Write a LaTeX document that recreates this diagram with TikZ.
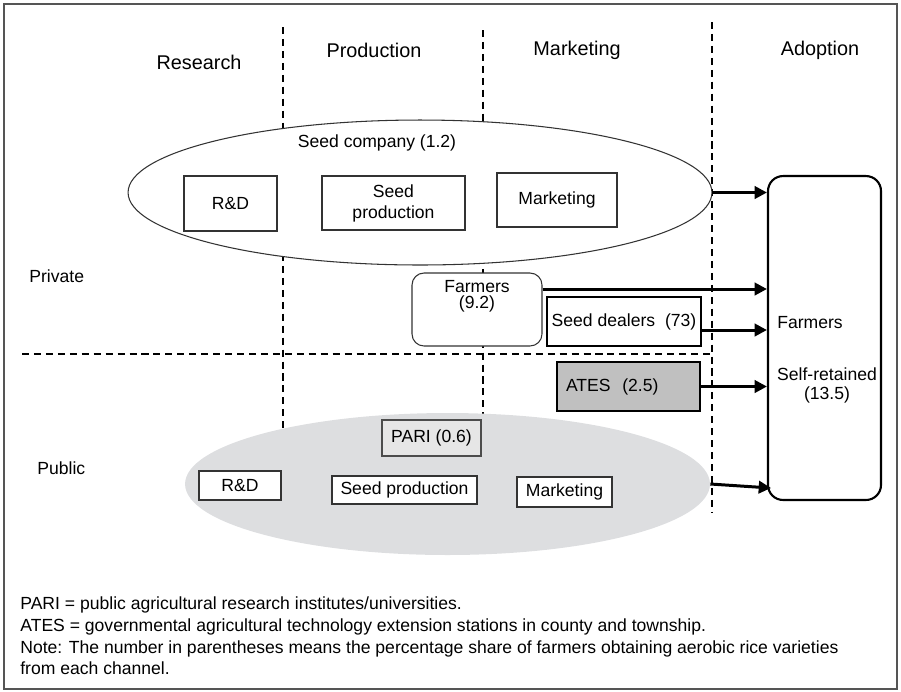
\documentclass[tikz,border=0pt]{standalone}
\usepackage{fontspec}
\setmainfont{Liberation Sans}
\usetikzlibrary{positioning,arrows.meta,shapes.geometric}
\definecolor{framegray}{HTML}{555555}
\definecolor{pubgray}{HTML}{DDDEE0}
\definecolor{parigray}{HTML}{E6E6E6}
\definecolor{atesgray}{HTML}{C0C0C0}

\begin{document}
\begin{tikzpicture}[x=0.02cm,y=-0.02cm,
	font=\fontsize{10}{12}\selectfont,
	gridline/.style={line width=1.3pt,dash pattern=on 4pt off 2.8pt},
	box/.style={draw=black!80,line width=0.6pt,fill=white,inner sep=0pt,align=center},
	thickbox/.style={box,draw=black,line width=1.2pt},
	header/.style={font=\fontsize{11.3}{13}\selectfont},
	flow/.style={line width=1.7pt,-{Triangle[length=7pt,width=7pt]}}]
		
		\useasboundingbox (0,0) rectangle (901,691);
		
		% frame
		\draw[framegray,line width=0.6pt]
		(4,4)
		rectangle
		(897,689);
		
		% stage and sector borders
		\draw[gridline] (283,27) -- (283,440);
		\draw[gridline] (483,30) -- (483,420);
		\draw[gridline] (712,22) -- (712,512);
		\draw[gridline] (22,354) -- (712,354);
		
		% private sector
		\node[ellipse,box,minimum width=11.68cm,minimum height=2.9cm] (pco)
		at (420,192.5) {};
		\node (pcotext) at (377,143) {Seed company (1.2)};
		\node[box,minimum width=1.86cm,minimum height=1.1cm] (prd)
		at (230.5,203.5) {R\&D};
		\node[box,minimum width=2.86cm,minimum height=1.08cm] (pprod)
		at (393.5,203) {Seed\\production};
		\node[box,minimum width=2.4cm,minimum height=1.08cm] (pmkt)
		at (557,200) {Marketing};
		
		\node[box,rounded corners=0.24cm,minimum width=2.6cm,minimum height=1.46cm] (pfarm)
		at (477,309.5) {};
		\node[align=center,font=\fontsize{10}{9}\selectfont] (pfarmtext)
		at (477,296) {Farmers\\(9.2)};
		\node[thickbox,minimum width=3.08cm,minimum height=0.98cm] (dealer)
		at (624,321.5) {Seed dealers\ \ (73)};
		
		% public sector
		\node[thickbox,fill=atesgray,text width=2.5cm,align=left,inner xsep=5pt,minimum height=0.98cm] (ates)
		at (628.5,386.5) {ATES\ \ (2.5)};
		
		\node[ellipse,fill=pubgray,inner sep=0pt,minimum width=10.5cm,minimum height=2.84cm] (pub)
		at (447.5,484) {};
		\node[box,draw=black!70,fill=parigray,minimum width=1.98cm,minimum height=0.72cm] (pari)
		at (431.5,438) {PARI (0.6)};
		\node[box,minimum width=1.64cm,minimum height=0.58cm] (urd)
		at (240,485.5) {R\&D};
		\node[box,minimum width=2.9cm,minimum height=0.56cm] (uprod)
		at (404.5,490) {Seed production};
		\node[box,minimum width=1.9cm,minimum height=0.6cm] (umkt)
		at (564.5,492) {Marketing};
		
		% adoption
		\node[thickbox,rounded corners=0.3cm,minimum width=2.26cm,minimum height=6.48cm] (ado)
		at (824.5,338) {};
		\node[anchor=west,inner sep=0pt] (adofarm)
		at (777,323) {Farmers};
		\node[align=center,font=\fontsize{10}{10.8}\selectfont] (adoself)
		at (827,385.5) {Self-retained\\(13.5)};
		
		% channels
		\coordinate (pubtip) at (771,488);
		\draw[flow] (pco.east) -- (pco.east -| ado.west);
		\draw[flow] ([yshift=0.41cm]pfarm.east) -- ([yshift=0.41cm]pfarm.east -| ado.west);
		\draw[flow] ([yshift=-0.17cm]dealer.east) -- ([yshift=-0.17cm]dealer.east -| ado.west);
		\draw[flow] (ates.east) -- (ates.east -| ado.west);
		\draw[flow] (pub.east) -- (pubtip);
		
		% labels
		\node[header] (hres) at (199,62) {Research};
		\node[header] (hprod) at (374,50) {Production};
		\node[header] (hmkt) at (577,50) {Marketing};
		\node[header] (hado) at (820,50) {Adoption};
		\node[anchor=west,inner sep=0pt] (lpriv) at (29,276) {Private};
		\node[anchor=west,inner sep=0pt] (lpub) at (37,468) {Public};
		
		% notes
		\node[anchor=north west,inner sep=0pt,align=left,font=\fontsize{10}{12.5}\selectfont] (notes)
		at (20,596) {PARI = public agricultural research institutes/universities.\\
			ATES = governmental agricultural technology extension stations in county and township.\\
			Note: The number in parentheses means the percentage share of farmers obtaining aerobic rice varieties\\
			from each channel.};
		
	\end{tikzpicture}
\end{document}
